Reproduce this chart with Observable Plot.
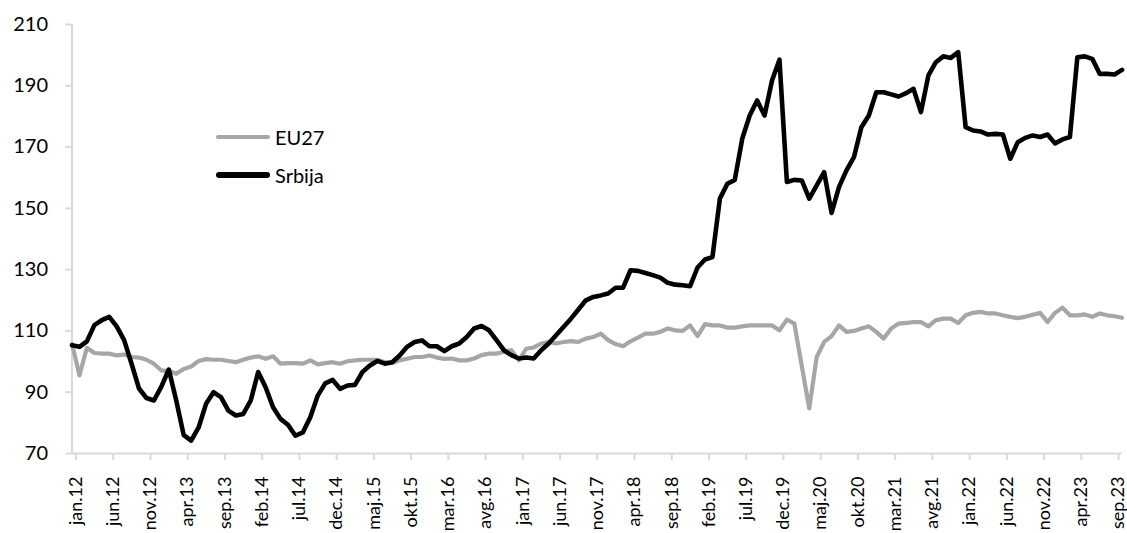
<!DOCTYPE html>
<html>
<head>
<meta charset="utf-8">
<script src="https://cdn.jsdelivr.net/npm/d3@7"></script>
<script src="https://cdn.jsdelivr.net/npm/@observablehq/plot@0.6"></script>
<style>
  body { margin: 0; background: #fff; }
  #chart { position: relative; width: 1127px; height: 533px; overflow: hidden; font-family: Lato, "Open Sans", sans-serif; }
  .legend { position: absolute; left: 216px; top: 118px; font-size: 20px; color: #000; }
  .legend .item { display: flex; align-items: center; height: 38px; }
  .legend .swatch { width: 54px; border-radius: 3px; margin-right: 5px; }
</style>
</head>
<body>
<div id="chart"></div>
<script>
// Monthly index, January 2012 – October 2023
const monthNames = ["jan", "feb", "mar", "apr", "maj", "jun", "jul", "avg", "sep", "okt", "nov", "dec"];
const startYear = 2012;

const eu27 = [
  105.8, 95.5, 104.5, 102.8, 102.6, 102.6, 102.0, 102.3, 101.5, 101.3, 100.6, 99.3,
  97.1, 96.9, 96.0, 97.6, 98.4, 100.2, 100.8, 100.6, 100.6, 100.2, 99.8, 100.6,
  101.3, 101.7, 100.9, 101.7, 99.3, 99.5, 99.5, 99.3, 100.4, 99.1, 99.5, 99.8,
  99.3, 100.1, 100.4, 100.6, 100.6, 100.6, 99.8, 99.5, 100.4, 100.9, 101.5, 101.5,
  102.0, 101.3, 100.9, 101.0, 100.4, 100.4, 101.0, 102.1, 102.6, 102.6, 103.2, 103.7,
  100.4, 104.2, 104.6, 105.9, 106.4, 105.9, 106.4, 106.7, 106.4, 107.5, 108.0, 109.1,
  107.0, 105.7, 105.0, 106.6, 107.8, 109.1, 109.1, 109.7, 110.8, 110.2, 110.0, 111.8,
  108.3, 112.2, 111.8, 111.8, 111.1, 111.1, 111.5, 111.8, 111.8, 111.8, 111.8, 110.2,
  113.7, 112.4, 98.5, 84.7, 101.5, 106.4, 108.3, 111.8, 109.7, 110.0, 110.8, 111.5,
  109.7, 107.5, 110.8, 112.4, 112.6, 112.9, 112.9, 111.5, 113.5, 114.0, 114.0, 112.6,
  115.1, 115.9, 116.2, 115.7, 115.7, 115.1, 114.6, 114.2, 114.6, 115.3, 115.9, 112.9,
  115.9, 117.6, 115.1, 115.1, 115.4, 114.6, 115.7, 115.1, 114.8, 114.3
];

const srbija = [
  105.3, 104.8, 106.6, 111.9, 113.5, 114.6, 111.5, 107.0, 99.3, 91.2, 88.1, 87.3,
  91.8, 97.4, 87.3, 76.0, 74.2, 78.5, 86.2, 90.0, 88.4, 84.0, 82.4, 82.9,
  87.3, 96.6, 91.6, 85.1, 81.3, 79.4, 75.8, 76.9, 81.8, 88.9, 92.9, 94.0,
  91.1, 92.2, 92.4, 96.6, 98.7, 100.2, 99.3, 99.8, 102.0, 104.8, 106.4, 106.9,
  105.0, 105.0, 103.4, 105.0, 105.9, 108.0, 110.8, 111.6, 110.2, 107.0, 103.7, 102.1,
  101.0, 101.3, 101.0, 103.7, 105.9, 108.6, 111.3, 114.0, 117.0, 120.0, 121.1, 121.6,
  122.2, 124.1, 124.1, 129.8, 129.6, 128.9, 128.2, 127.4, 125.7, 125.1, 124.9, 124.6,
  130.7, 133.3, 134.1, 153.2, 158.0, 159.3, 172.7, 180.3, 185.2, 180.3, 191.7, 198.5,
  158.6, 159.3, 159.1, 153.2, 157.5, 161.8, 148.5, 157.0, 162.4, 166.7, 176.5, 180.3,
  187.9, 187.9, 187.2, 186.5, 187.6, 189.0, 181.4, 193.4, 197.7, 199.6, 199.1, 201.0,
  176.5, 175.4, 175.1, 174.1, 174.3, 174.1, 166.2, 171.6, 173.0, 173.8, 173.3, 174.1,
  171.2, 172.5, 173.3, 199.3, 199.6, 198.8, 193.9, 193.9, 193.7, 195.2
];

const yTicks = [70, 90, 110, 130, 150, 170, 190, 210];
const tickEvery = 5; // a labelled tick every five months

const seriesNames = ["EU27", "Srbija"];
const seriesColors = ["#a6a6a6", "#000000"];
const seriesWidths = [4.2, 4.6];

// month label such as "jan.12"
const monthLabel = (i) => `${monthNames[i % 12]}.${String((startYear + Math.floor(i / 12)) % 100).padStart(2, "0")}`;

const n = srbija.length;
const rows = [];
[eu27, srbija].forEach((values, s) => {
  values.forEach((v, i) => rows.push({ series: seriesNames[s], i, value: v }));
});
const xTicks = d3.range(0, n, tickEvery);

const W = 1127, H = 533;
const left = 71.5, step = 7.447;

const svg = Plot.plot({
  width: W,
  height: H,
  marginLeft: left,
  marginRight: W - (left + (n - 1) * step),
  marginTop: 24,
  marginBottom: 80,
  style: { fontFamily: "Lato, 'Open Sans', sans-serif", fontSize: "20px", color: "#000", background: "#fff" },
  x: { domain: [0, n - 1] },
  y: { domain: [70, 210] },
  marks: [
    Plot.ruleY([70], { stroke: "#d9d9d9", strokeWidth: 2, x1: 0, x2: n - 1 }),
    Plot.ruleX([0], { stroke: "#d9d9d9", strokeWidth: 2 }),
    Plot.axisY({ ticks: yTicks, label: null, tickSize: 6, tickPadding: 18, stroke: "#d9d9d9", strokeWidth: 2, fill: "#000", fontSize: 20 }),
    Plot.axisX({
      ticks: xTicks, label: null, tickFormat: monthLabel, tickRotate: -90,
      tickSize: 7, tickPadding: 16, dx: 4,
      stroke: "#d9d9d9", strokeWidth: 2, fill: "#000", fontSize: 18
    }),
    Plot.line(rows.filter(d => d.series === "EU27"), {
      x: "i", y: "value", stroke: seriesColors[0], strokeWidth: seriesWidths[0],
      strokeLinejoin: "round", strokeLinecap: "round"
    }),
    Plot.line(rows.filter(d => d.series === "Srbija"), {
      x: "i", y: "value", stroke: seriesColors[1], strokeWidth: seriesWidths[1],
      strokeLinejoin: "round", strokeLinecap: "round"
    })
  ]
});

const chart = document.getElementById("chart");
chart.appendChild(svg);

// legend inside the plotting area
const legend = document.createElement("div");
legend.className = "legend";
seriesNames.forEach((name, s) => {
  const item = document.createElement("div");
  item.className = "item";
  const sw = document.createElement("span");
  sw.className = "swatch";
  sw.style.background = seriesColors[s];
  sw.style.height = seriesWidths[s] + 0.6 + "px";
  const label = document.createElement("span");
  label.textContent = name;
  item.appendChild(sw);
  item.appendChild(label);
  legend.appendChild(item);
});
chart.appendChild(legend);
</script>
</body>
</html>
